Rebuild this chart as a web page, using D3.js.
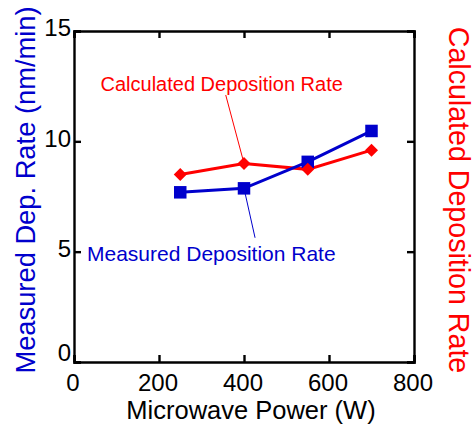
<!DOCTYPE html>
<html>
<head>
<meta charset="utf-8">
<script src="https://cdn.jsdelivr.net/npm/d3@7"></script>
<style>
  html, body { margin: 0; padding: 0; background: #fff; }
  svg { display: block; font-family: "Liberation Sans", Arial, Helvetica, sans-serif; }
</style>
</head>
<body>
<svg id="chart" width="475" height="430"></svg>
<script>
// ---- data ----
const powers = [250, 400, 550, 700];
const measuredRate = [7.69, 7.87, 9.07, 10.47];
const calculatedRate = [8.5, 9.0, 8.73, 9.6];
const xTicks = [0, 200, 400, 600, 800];
const yTicks = [0, 5, 10, 15];
const xLabel = "Microwave Power (W)";
const yLabelLeft = "Measured Dep. Rate (nm/min)";
const yLabelRight = "Calculated Deposition Rate";
const calcNote = "Calculated Deposition Rate";
const measNote = "Measured Deposition Rate";
// annotation leader lines, in data units: [from, to]
const calcLeader = [[357, 12.1], [400, 9.0]];
const measLeader = [[400, 7.87], [426, 5.63]];

const blue = "#0000cc";
const red = "#ff0000";

const svg = d3.select("#chart");
const L = 74, R = 414, T = 31, B = 362;
const x = d3.scaleLinear().domain([0, 800]).range([L, R]);
const y = d3.scaleLinear().domain([0, 15]).range([B, T]);

// frame axes
const tickLen = 7;
const gB = svg.append("g").attr("transform", `translate(0,${B})`)
  .call(d3.axisBottom(x).tickValues(xTicks).tickSize(-tickLen).tickPadding(tickLen + 5).tickFormat(d3.format("d")));
const gT = svg.append("g").attr("transform", `translate(0,${T})`)
  .call(d3.axisTop(x).tickValues(xTicks).tickSize(-tickLen).tickFormat(""));
const gL = svg.append("g").attr("transform", `translate(${L},0)`)
  .call(d3.axisLeft(y).tickValues(yTicks).tickSize(-tickLen).tickPadding(3).tickFormat(d3.format("d")));
const gR = svg.append("g").attr("transform", `translate(${R},0)`)
  .call(d3.axisRight(y).tickValues(yTicks).tickSize(-tickLen).tickFormat(""));

[gB, gT, gL, gR].forEach(g => {
  g.select(".domain").attr("stroke", "#000").attr("stroke-width", 2.4);
  g.selectAll(".tick line").attr("stroke", "#000").attr("stroke-width", 2.4);
  g.selectAll(".tick text").attr("fill", "#000").attr("font-size", 24)
    .attr("font-family", "Liberation Sans, Arial, sans-serif");
});
gL.selectAll(".tick text").attr("dy", "0.32em").attr("y", -3);
gL.selectAll(".tick text").filter(d => d === 0).attr("y", -9);
gB.selectAll(".tick text").attr("dx", -1.5);

// axis titles
svg.append("text")
  .attr("x", 251).attr("y", 419)
  .attr("text-anchor", "middle").attr("font-size", 25.5)
  .attr("fill", "#000").text(xLabel);

svg.append("text")
  .attr("transform", `translate(35,${190}) rotate(-90)`)
  .attr("text-anchor", "middle").attr("font-size", 27.3)
  .attr("fill", blue).text(yLabelLeft);

svg.append("text")
  .attr("transform", `translate(449,${200}) rotate(90)`)
  .attr("text-anchor", "middle").attr("font-size", 28.6)
  .attr("fill", red).text(yLabelRight);

// lines
const line = d3.line().x(d => x(d[0])).y(d => y(d[1]));
const calcPts = powers.map((p, i) => [p, calculatedRate[i]]);
const measPts = powers.map((p, i) => [p, measuredRate[i]]);

svg.append("path").datum(calcPts).attr("d", line)
  .attr("fill", "none").attr("stroke", red).attr("stroke-width", 3);
svg.append("path").datum(measPts).attr("d", line)
  .attr("fill", "none").attr("stroke", blue).attr("stroke-width", 3);

// markers
const sq = 12.5;
svg.selectAll(".sq").data(measPts).enter().append("rect")
  .attr("x", d => x(d[0]) - sq / 2).attr("y", d => y(d[1]) - sq / 2)
  .attr("width", sq).attr("height", sq).attr("fill", blue);

const dm = 6.5;
svg.selectAll(".dm").data(calcPts).enter().append("path")
  .attr("d", d => {
    const cx = x(d[0]), cy = y(d[1]);
    return `M${cx},${cy - dm}L${cx + dm},${cy}L${cx},${cy + dm}L${cx - dm},${cy}Z`;
  })
  .attr("fill", red);

// annotations
svg.append("path").datum(calcLeader).attr("d", line)
  .attr("stroke", red).attr("stroke-width", 1).attr("fill", "none");
svg.append("path").datum(measLeader).attr("d", line)
  .attr("stroke", blue).attr("stroke-width", 1).attr("fill", "none");

svg.append("text").attr("x", 100.5).attr("y", 90.5)
  .attr("font-size", 20).attr("fill", red).text(calcNote);
svg.append("text").attr("x", 87).attr("y", 260.5)
  .attr("font-size", 21).attr("fill", blue).text(measNote);
</script>
</body>
</html>
